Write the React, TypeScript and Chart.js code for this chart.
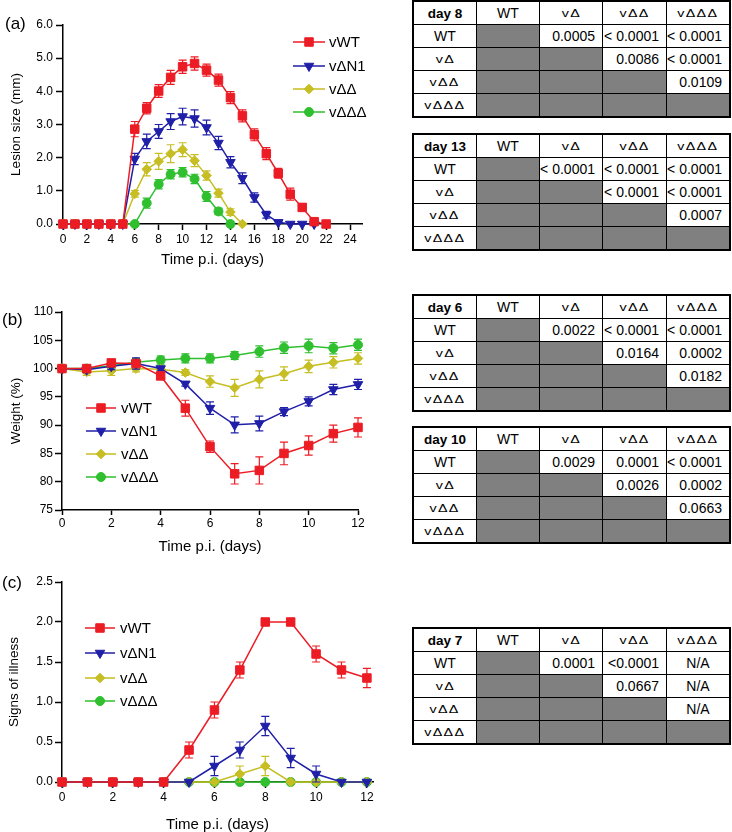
import React, { useEffect, useRef } from 'react';
import { Chart, registerables } from 'chart.js';
import { drawPoint } from 'chart.js/helpers';

Chart.register(...registerables);

const FONT = "'Liberation Sans', Arial, Helvetica, sans-serif";

// ---------- series appearance ----------
const seriesNames = ['vWT', 'vΔN1', 'vΔΔ', 'vΔΔΔ'];
const seriesColors = ['#ec1c24', '#1f1fa8', '#c6be22', '#2fbf2f'];
const seriesPointStyles = ['rect', 'triangle', 'rectRot', 'circle'];
const seriesPointRotations = [0, 180, 0, 0];
const seriesPointRadii = [6, 5.5, 4.8, 4.5];

// ---------- (a) lesion size ----------
const lesionDays = [0, 1, 2, 3, 4, 5, 6, 7, 8, 9, 10, 11, 12, 13, 14, 15, 16, 17, 18, 19, 20, 21, 22];
const lesionWT = [0, 0, 0, 0, 0, 0, 2.86, 3.49, 4.01, 4.42, 4.74, 4.84, 4.64, 4.34, 3.81, 3.26, 2.69, 2.12, 1.53, 0.9, 0.5, 0.07, 0];
const lesionWTErr = [0, 0, 0, 0, 0, 0, 0.23, 0.17, 0.19, 0.21, 0.2, 0.2, 0.18, 0.18, 0.18, 0.18, 0.18, 0.18, 0.15, 0.18, 0.1, 0.05, 0];
const lesionN1 = [0, 0, 0, 0, 0, 0, 1.96, 2.49, 2.79, 3.09, 3.24, 3.18, 2.91, 2.44, 1.86, 1.38, 0.8, 0.28, 0.05, 0, 0, 0];
const lesionN1Err = [0, 0, 0, 0, 0, 0, 0.17, 0.22, 0.21, 0.24, 0.25, 0.26, 0.22, 0.2, 0.17, 0.16, 0.14, 0.1, 0.03, 0, 0, 0];
const lesionDD = [0, 0, 0, 0, 0, 0, 0.91, 1.65, 1.89, 2.12, 2.24, 1.91, 1.46, 0.93, 0.36, 0];
const lesionDDErr = [0, 0, 0, 0, 0, 0, 0.1, 0.2, 0.24, 0.27, 0.21, 0.18, 0.14, 0.12, 0.1, 0];
const lesionDDD = [0, 0, 0, 0, 0, 0, 0, 0.63, 1.2, 1.5, 1.56, 1.36, 0.83, 0.38, 0];
const lesionDDDErr = [0, 0, 0, 0, 0, 0, 0, 0.15, 0.14, 0.14, 0.14, 0.14, 0.15, 0.1, 0];
const lesionXTicks = [0, 2, 4, 6, 8, 10, 12, 14, 16, 18, 20, 22, 24];
const lesionYTicks = [0, 1, 2, 3, 4, 5, 6];

// ---------- (b) weight ----------
const weightDays = [0, 1, 2, 3, 4, 5, 6, 7, 8, 9, 10, 11, 12];
const weightWT = [100, 100, 101.0, 100.9, 98.7, 93.0, 86.2, 81.4, 82.0, 85.0, 86.4, 88.5, 89.6];
const weightWTErr = [0, 0.3, 0.4, 0.5, 0.6, 1.4, 1.0, 1.8, 2.4, 2.0, 1.7, 1.5, 1.7];
const weightN1 = [100, 99.8, 100.4, 100.9, 100.0, 97.3, 93.0, 90.05, 90.3, 92.4, 94.2, 96.3, 97.2];
const weightN1Err = [0, 0.5, 0.6, 1.0, 0.4, 0.4, 1.1, 1.4, 1.3, 0.7, 0.8, 0.9, 0.9];
const weightDD = [100, 99.4, 99.6, 100.0, 99.9, 99.3, 97.7, 96.6, 98.1, 99.1, 100.4, 101.1, 101.8];
const weightDDErr = [0, 0.6, 0.8, 0.6, 0.5, 0.5, 1.0, 1.5, 1.5, 1.2, 1.1, 1.0, 1.0];
const weightDDD = [100, 100, 100.5, 101.1, 101.5, 101.8, 101.8, 102.3, 103.0, 103.7, 104.0, 103.6, 104.2];
const weightDDDErr = [0, 0.4, 0.5, 0.6, 0.7, 0.8, 0.8, 0.7, 1.0, 1.0, 1.2, 1.0, 1.0];
const weightXTicks = [0, 2, 4, 6, 8, 10, 12];
const weightYTicks = [75, 80, 85, 90, 95, 100, 105, 110];

// ---------- (c) signs of illness ----------
const illnessDays = [0, 1, 2, 3, 4, 5, 6, 7, 8, 9, 10, 11, 12];
const illnessWT = [0, 0, 0, 0, 0, 0.4, 0.9, 1.4, 2.0, 2.0, 1.6, 1.4, 1.3];
const illnessWTErr = [0, 0, 0, 0, 0, 0.1, 0.1, 0.1, 0, 0, 0.1, 0.1, 0.12];
const illnessN1 = [0, 0, 0, 0, 0, 0, 0.2, 0.4, 0.7, 0.3, 0.1, 0, 0];
const illnessN1Err = [0, 0, 0, 0, 0, 0, 0.12, 0.1, 0.12, 0.12, 0.1, 0, 0];
const illnessDD = [0, 0, 0, 0, 0, 0, 0, 0.1, 0.2, 0, 0, 0, 0];
const illnessDDErr = [0, 0, 0, 0, 0, 0, 0, 0.1, 0.12, 0, 0, 0, 0];
const illnessDDD = [0, 0, 0, 0, 0, 0, 0, 0, 0, 0, 0, 0, 0];
const illnessDDDErr = [0, 0, 0, 0, 0, 0, 0, 0, 0, 0, 0, 0, 0];
const illnessXTicks = [0, 2, 4, 6, 8, 10, 12];
const illnessYTicks = [0, 0.5, 1, 1.5, 2, 2.5];

// ---------- p-value tables ----------
const tableColumns = ['WT', 'vΔ', 'vΔΔ', 'vΔΔΔ'];
const tableRows = ['WT', 'vΔ', 'vΔΔ', 'vΔΔΔ'];
const day8P = [
  [null, '0.0005', '< 0.0001', '< 0.0001'],
  [null, null, '0.0086', '< 0.0001'],
  [null, null, null, '0.0109'],
  [null, null, null, null],
];
const day13P = [
  [null, '< 0.0001', '< 0.0001', '< 0.0001'],
  [null, null, '< 0.0001', '< 0.0001'],
  [null, null, null, '0.0007'],
  [null, null, null, null],
];
const day6P = [
  [null, '0.0022', '< 0.0001', '< 0.0001'],
  [null, null, '0.0164', '0.0002'],
  [null, null, null, '0.0182'],
  [null, null, null, null],
];
const day10P = [
  [null, '0.0029', '0.0001', '< 0.0001'],
  [null, null, '0.0026', '0.0002'],
  [null, null, null, '0.0663'],
  [null, null, null, null],
];
const day7P = [
  [null, '0.0001', '<0.0001', 'N/A'],
  [null, null, '0.0667', 'N/A'],
  [null, null, null, 'N/A'],
  [null, null, null, null],
];

// ---------- plugins ----------
const errorBarPlugin = {
  id: 'errorBars',
  beforeDatasetDraw(chart: any, args: any) {
    const ds = chart.data.datasets[args.index];
    const errs: number[] | undefined = ds.errors;
    if (!errs) return;
    const { ctx } = chart;
    const xs = chart.scales.x;
    const ys = chart.scales.y;
    ctx.save();
    ctx.strokeStyle = ds.borderColor;
    ctx.lineWidth = 1.2;
    ds.data.forEach((pt: any, j: number) => {
      const e = errs[j];
      if (!e) return;
      const px = xs.getPixelForValue(pt.x);
      const yt = ys.getPixelForValue(pt.y + e);
      const yb = ys.getPixelForValue(pt.y - e);
      ctx.beginPath();
      ctx.moveTo(px, yt);
      ctx.lineTo(px, yb);
      ctx.moveTo(px - 4, yt);
      ctx.lineTo(px + 4, yt);
      ctx.moveTo(px - 4, yb);
      ctx.lineTo(px + 4, yb);
      ctx.stroke();
    });
    ctx.restore();
  },
};

const panelLegendPlugin = {
  id: 'panelLegend',
  afterDraw(chart: any, _args: any, opts: any) {
    if (!opts || !opts.rows) return;
    const { ctx } = chart;
    ctx.save();
    chart.data.datasets.forEach((ds: any, i: number) => {
      const y = opts.rows[i];
      ctx.strokeStyle = ds.borderColor;
      ctx.lineWidth = 1.5;
      ctx.beginPath();
      ctx.moveTo(opts.lineStart, y);
      ctx.lineTo(opts.lineEnd, y);
      ctx.stroke();
      ctx.fillStyle = ds.pointBackgroundColor;
      ctx.strokeStyle = ds.pointBorderColor;
      ctx.lineWidth = 1;
      drawPoint(ctx, { pointStyle: ds.pointStyle, rotation: ds.pointRotation, radius: ds.pointRadius, borderWidth: 1 } as any, opts.marker, y);
      ctx.fillStyle = '#000';
      ctx.font = `15px ${FONT}`;
      ctx.textBaseline = 'middle';
      ctx.textAlign = 'left';
      ctx.fillText(ds.label, opts.textX, y + 0.5);
    });
    ctx.restore();
  },
};

// ---------- chart builders ----------
function buildDatasets(days: number[], values: number[][], errors: number[][]) {
  return values.map((vals, i) => ({
    label: seriesNames[i],
    data: vals.map((v, j) => ({ x: days[j], y: v })),
    errors: errors[i],
    borderColor: seriesColors[i],
    backgroundColor: seriesColors[i],
    pointBackgroundColor: seriesColors[i],
    pointBorderColor: seriesColors[i],
    pointStyle: seriesPointStyles[i],
    pointRotation: seriesPointRotations[i],
    pointRadius: seriesPointRadii[i],
    pointHoverRadius: seriesPointRadii[i],
    pointBorderWidth: 1,
    borderWidth: 1.5,
    tension: 0,
    fill: false,
    clip: false,
  }));
}

type Layout = {
  width: number; height: number;
  left: number; top: number; right: number; bottom: number;
  xTick: number; xPad: number; yTick: number; yPad: number;
  xTitlePad: number; yTitlePad: number;
};

function buildConfig(p: {
  layout: Layout;
  datasets: any[];
  xMin: number; xMax: number; xTicks: number[];
  yMin: number; yMax: number; yTicks: number[]; yDecimals: number;
  xTitle: string; yTitle: string;
  legend: any;
}) {
  const L = p.layout;
  const tickFont = { family: FONT, size: 12 };
  return {
    type: 'line',
    data: { datasets: p.datasets },
    plugins: [errorBarPlugin, panelLegendPlugin],
    options: {
      animation: false,
      responsive: false,
      devicePixelRatio: 1,
      events: [],
      layout: { padding: { left: 0, top: L.top, right: L.width - L.right, bottom: 0 } },
      plugins: {
        legend: { display: false },
        tooltip: { enabled: false },
        panelLegend: p.legend,
      },
      scales: {
        x: {
          type: 'linear',
          min: p.xMin,
          max: p.xMax,
          afterBuildTicks: (s: any) => { s.ticks = p.xTicks.map((v) => ({ value: v })); },
          afterFit: (s: any) => { s.height = L.height - L.bottom; },
          grid: { display: true, drawOnChartArea: false, drawTicks: true, tickLength: L.xTick, tickColor: '#000', tickWidth: 1.5 },
          border: { display: true, color: '#000', width: 1.5 },
          ticks: { color: '#000', font: tickFont, padding: L.xPad, maxRotation: 0, autoSkip: false, callback: (v: any) => String(v) },
          title: { display: true, text: p.xTitle, color: '#000', font: { family: FONT, size: 15, lineHeight: 1 }, padding: { top: 0, bottom: L.xTitlePad } },
        },
        y: {
          type: 'linear',
          min: p.yMin,
          max: p.yMax,
          afterBuildTicks: (s: any) => { s.ticks = p.yTicks.map((v) => ({ value: v })); },
          afterFit: (s: any) => { s.width = L.left; },
          grid: { display: true, drawOnChartArea: false, drawTicks: true, tickLength: L.yTick, tickColor: '#000', tickWidth: 1.5 },
          border: { display: true, color: '#000', width: 1.5 },
          ticks: { color: '#000', font: tickFont, padding: L.yPad, autoSkip: false, callback: (v: any) => Number(v).toFixed(p.yDecimals) },
          title: { display: true, text: p.yTitle, color: '#000', font: { family: FONT, size: 13.5, lineHeight: 1 }, padding: { top: L.yTitlePad, bottom: 0 } },
        },
      },
    },
  };
}

function configA() {
  return buildConfig({
    layout: { width: 380, height: 275, left: 63, top: 25, right: 362, bottom: 224, xTick: 6, xPad: 2, yTick: 7, yPad: 3, xTitlePad: 7.5, yTitlePad: 10 },
    datasets: buildDatasets(lesionDays, [lesionWT, lesionN1, lesionDD, lesionDDD], [lesionWTErr, lesionN1Err, lesionDDErr, lesionDDDErr]),
    xMin: 0, xMax: 25, xTicks: lesionXTicks,
    yMin: 0, yMax: 6, yTicks: lesionYTicks, yDecimals: 1,
    xTitle: 'Time p.i. (days)', yTitle: 'Lesion size (mm)',
    legend: { lineStart: 293, lineEnd: 325, marker: 309, textX: 329, rows: [42, 66, 89, 112] },
  });
}

function configB() {
  return buildConfig({
    layout: { width: 380, height: 280, left: 62, top: 32, right: 358, bottom: 230, xTick: 5, xPad: 1, yTick: 7, yPad: 2, xTitlePad: 5.5, yTitlePad: 10 },
    datasets: buildDatasets(weightDays, [weightWT, weightN1, weightDD, weightDDD], [weightWTErr, weightN1Err, weightDDErr, weightDDDErr]),
    xMin: 0, xMax: 12, xTicks: weightXTicks,
    yMin: 75, yMax: 110, yTicks: weightYTicks, yDecimals: 0,
    xTitle: 'Time p.i. (days)', yTitle: 'Weight (%)',
    legend: { lineStart: 86, lineEnd: 116, marker: 101, textX: 121, rows: [128, 151, 174, 197] },
  });
}

function configC() {
  return buildConfig({
    layout: { width: 380, height: 262, left: 62, top: 12, right: 373, bottom: 212, xTick: 6, xPad: 2, yTick: 7, yPad: 2, xTitlePad: 0, yTitlePad: 7.5 },
    datasets: buildDatasets(illnessDays, [illnessWT, illnessN1, illnessDD, illnessDDD], [illnessWTErr, illnessN1Err, illnessDDErr, illnessDDDErr]),
    xMin: 0, xMax: 12.24, xTicks: illnessXTicks,
    yMin: 0, yMax: 2.5, yTicks: illnessYTicks, yDecimals: 1,
    xTitle: 'Time p.i. (days)', yTitle: 'Signs of illness',
    legend: { lineStart: 85, lineEnd: 115, marker: 100, textX: 120, rows: [58, 83, 108, 131] },
  });
}

function ChartPanel({ makeConfig, left, top, width, height }: { makeConfig: () => any; left: number; top: number; width: number; height: number }) {
  const ref = useRef<HTMLCanvasElement>(null);
  useEffect(() => {
    if (!ref.current) return;
    const chart = new Chart(ref.current, makeConfig());
    return () => chart.destroy();
  }, []);
  return (
    <canvas
      ref={ref}
      width={width}
      height={height}
      style={{ position: 'absolute', left, top, width, height, display: 'block' }}
    />
  );
}

// ---------- tables ----------
function CellLabel({ text }: { text: string }) {
  if (text.startsWith('v')) {
    return (
      <span style={{ display: 'inline-block', fontSize: 11, letterSpacing: 1, transform: 'scaleX(1.3)' }}>{text}</span>
    );
  }
  return <span style={{ fontSize: 14 }}>{text}</span>;
}

function PTable({ day, values, top }: { day: string; values: (string | null)[][]; top: number }) {
  const cellBase: React.CSSProperties = {
    display: 'flex',
    alignItems: 'center',
    justifyContent: 'center',
    background: '#fff',
    color: '#000',
    fontFamily: FONT,
    overflow: 'hidden',
    whiteSpace: 'nowrap',
  };
  const cells: React.ReactNode[] = [];
  cells.push(
    <div key="corner" style={{ ...cellBase, fontWeight: 'bold', fontSize: 13.5 }}>{day}</div>
  );
  tableColumns.forEach((c, i) => {
    cells.push(<div key={'h' + i} style={cellBase}><CellLabel text={c} /></div>);
  });
  tableRows.forEach((r, ri) => {
    cells.push(<div key={'r' + ri} style={cellBase}><CellLabel text={r} /></div>);
    values[ri].forEach((v, ci) => {
      if (v === null) {
        cells.push(<div key={`c${ri}-${ci}`} style={{ ...cellBase, background: '#808080' }} />);
      } else {
        const isNA = v === 'N/A';
        cells.push(
          <div
            key={`c${ri}-${ci}`}
            style={{
              ...cellBase,
              fontSize: 14,
              justifyContent: isNA ? 'center' : 'flex-end',
              paddingRight: isNA ? 0 : 7,
            }}
          >
            {v}
          </div>
        );
      }
    });
  });
  return (
    <div
      style={{
        position: 'absolute',
        left: 412,
        top,
        width: 319,
        height: 118,
        boxSizing: 'border-box',
        border: '2px solid #000',
        background: '#000',
        display: 'grid',
        gridTemplateColumns: '62px 62px 62px 63px 62px',
        gridTemplateRows: 'repeat(5, 22px)',
        gap: 1,
      }}
    >
      {cells}
    </div>
  );
}

function PanelLabel({ text, left, top }: { text: string; left: number; top: number }) {
  return (
    <div style={{ position: 'absolute', left, top, fontFamily: FONT, fontSize: 17, lineHeight: '20px', color: '#000' }}>
      {text}
    </div>
  );
}

export default function App() {
  return (
    <div style={{ position: 'absolute', left: 0, top: 0, width: 732, height: 832, background: '#fff', overflow: 'hidden' }}>
      <ChartPanel makeConfig={configA} left={0} top={0} width={380} height={275} />
      <ChartPanel makeConfig={configB} left={0} top={280} width={380} height={280} />
      <ChartPanel makeConfig={configC} left={0} top={570} width={380} height={262} />
      <PanelLabel text="(a)" left={5} top={14} />
      <PanelLabel text="(b)" left={2} top={310} />
      <PanelLabel text="(c)" left={2} top={573} />
      <PTable day="day 8" values={day8P} top={0} />
      <PTable day="day 13" values={day13P} top={133} />
      <PTable day="day 6" values={day6P} top={294} />
      <PTable day="day 10" values={day10P} top={426} />
      <PTable day="day 7" values={day7P} top={627} />
    </div>
  );
}
